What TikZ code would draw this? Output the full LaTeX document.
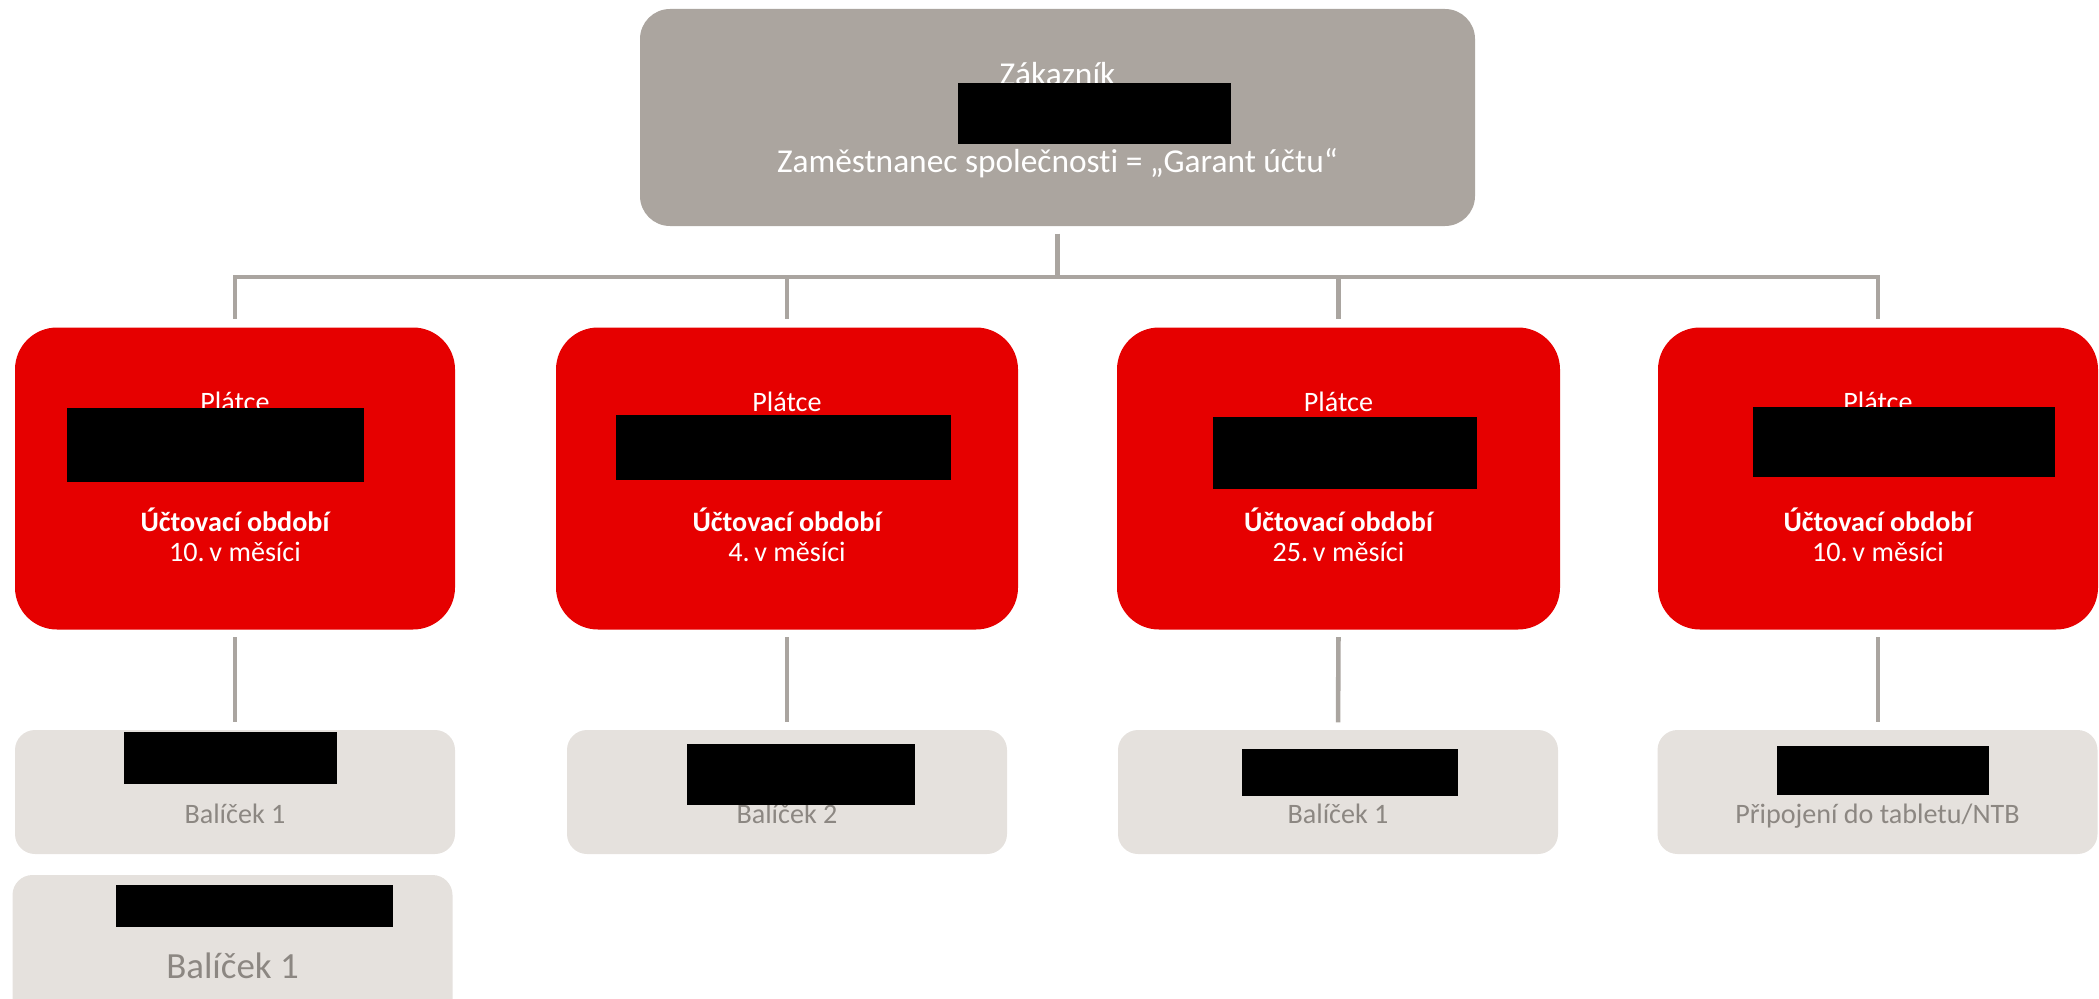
\documentclass[tikz,border=0pt]{standalone}
\usepackage{fontspec}
\setmainfont{Carlito}[Ligatures=NoCommon]
\usetikzlibrary{positioning,calc}
\definecolor{vfRed}{RGB}{230,0,0}
\definecolor{vfTaupe}{RGB}{171,165,159}
\definecolor{vfLight}{RGB}{229,225,221}
\definecolor{vfLine}{RGB}{170,165,160}
\definecolor{vfText}{RGB}{140,135,130}

\begin{document}
\begin{tikzpicture}[
  custbox/.style={fill=vfTaupe, rounded corners=0.3cm, minimum width=8.35cm, minimum height=2.17cm, inner sep=0pt},
  payerbox/.style={fill=vfRed, rounded corners=0.42cm, minimum height=3.02cm, inner sep=0pt},
  tarbox/.style={fill=vfLight, rounded corners=0.2cm, minimum width=4.4cm, minimum height=1.24cm, inner sep=0pt},
  link/.style={draw=vfLine, line width=1.3pt},
  redact/.style={fill=black},
  wtext/.style={text=white, font=\fontsize{8}{9}\selectfont, anchor=base, inner sep=0pt},
  gtext/.style={text=vfText, font=\fontsize{8}{9}\selectfont, anchor=base, inner sep=0pt},
]
  \clip (0,0) rectangle (20.99,-9.99);

  % Customer
  \node[custbox] (cust) at (10.575,-1.175) {};
  \node[wtext, font=\fontsize{9.5}{11}\selectfont] (custName) at (10.575,-0.86) {Zákazník};
  \node[wtext, font=\fontsize{9.5}{11}\selectfont] (custRole) at (10.575,-1.72) {Zaměstnanec společnosti = „Garant účtu“};
  \fill[redact] (9.58,-0.83) rectangle (12.31,-1.44);

  % Payers
  \node[payerbox, minimum width=4.40cm] (pay1) at (2.35,-4.785) {};
  \node[payerbox, minimum width=4.62cm] (pay2) at (7.87,-4.785) {};
  \node[payerbox, minimum width=4.43cm] (pay3) at (13.385,-4.785) {};
  \node[payerbox, minimum width=4.40cm] (pay4) at (18.78,-4.785) {};

  \node[wtext] (pay1a) at ($(pay1.north)+(0,-0.85)$) {Plátce};
  \node[wtext, font=\fontsize{8}{9}\selectfont\bfseries] (pay1b) at ($(pay1.north)+(0,-2.05)$) {Účtovací období};
  \node[wtext] (pay1c) at ($(pay1.north)+(0,-2.35)$) {10.\,v měsíci};
  \node[wtext] (pay2a) at ($(pay2.north)+(0,-0.85)$) {Plátce};
  \node[wtext, font=\fontsize{8}{9}\selectfont\bfseries] (pay2b) at ($(pay2.north)+(0,-2.05)$) {Účtovací období};
  \node[wtext] (pay2c) at ($(pay2.north)+(0,-2.35)$) {4.\,v měsíci};
  \node[wtext] (pay3a) at ($(pay3.north)+(0,-0.85)$) {Plátce};
  \node[wtext, font=\fontsize{8}{9}\selectfont\bfseries] (pay3b) at ($(pay3.north)+(0,-2.05)$) {Účtovací období};
  \node[wtext] (pay3c) at ($(pay3.north)+(0,-2.35)$) {25.\,v měsíci};
  \node[wtext] (pay4a) at ($(pay4.north)+(0,-0.85)$) {Plátce};
  \node[wtext, font=\fontsize{8}{9}\selectfont\bfseries] (pay4b) at ($(pay4.north)+(0,-2.05)$) {Účtovací období};
  \node[wtext] (pay4c) at ($(pay4.north)+(0,-2.35)$) {10.\,v měsíci};

  \fill[redact] (0.67,-4.08) rectangle (3.64,-4.82);
  \fill[redact] (6.16,-4.15) rectangle (9.51,-4.80);
  \fill[redact] (12.13,-4.17) rectangle (14.77,-4.89);
  \fill[redact] (17.53,-4.07) rectangle (20.55,-4.77);

  % Tariffs
  \node[tarbox] (tar1) at (2.35,-7.92) {};
  \node[tarbox] (tar2) at (7.87,-7.92) {};
  \node[tarbox] (tar3) at (13.38,-7.92) {};
  \node[tarbox] (tar4) at (18.775,-7.92) {};
  \node[tarbox, minimum height=1.6cm] (tar5) at (2.325,-9.55) {};

  \node[gtext] (tar1t) at ($(tar1)+(0,-0.31)$) {Balíček 1};
  \node[gtext] (tar2t) at ($(tar2)+(0,-0.31)$) {Balíček 2};
  \node[gtext] (tar3t) at ($(tar3)+(0,-0.31)$) {Balíček 1};
  \node[gtext] (tar4t) at ($(tar4)+(0,-0.31)$) {Připojení do tabletu/NTB};
  \node[gtext, font=\fontsize{10.5}{12}\selectfont] (tar5t) at (2.325,-9.78) {Balíček 1};

  \fill[redact] (1.24,-7.32) rectangle (3.37,-7.84);
  \fill[redact] (6.87,-7.44) rectangle (9.15,-8.05);
  \fill[redact] (12.42,-7.49) rectangle (14.58,-7.96);
  \fill[redact] (17.77,-7.46) rectangle (19.89,-7.95);
  \fill[redact] (1.16,-8.85) rectangle (3.93,-9.27);

  % Connectors
  \coordinate (bus) at (10.575,-2.77);
  \draw[link, shorten <=0.07cm] (cust.south) -- (bus);
  \draw[link, line cap=rect] (pay1 |- bus) -- (pay4 |- bus);
  \draw[link, shorten >=0.08cm] (pay1 |- bus) -- (pay1.north);
  \draw[link, shorten >=0.08cm] (pay2 |- bus) -- (pay2.north);
  \draw[link, shorten >=0.08cm] (pay3 |- bus) -- (pay3.north);
  \draw[link, shorten >=0.08cm] (pay4 |- bus) -- (pay4.north);
  \draw[link, shorten <=0.07cm, shorten >=0.07cm] (pay1.south) -- (tar1.north);
  \draw[link, shorten <=0.07cm, shorten >=0.07cm] (pay2.south) -- (tar2.north);
  \draw[link, shorten <=0.07cm, shorten >=0.07cm] (pay3.south) -- (tar3.north);
  \draw[link, shorten <=0.07cm, shorten >=0.07cm] (pay4 |- pay4.south) -- (pay4 |- tar4.north);
\end{tikzpicture}
\end{document}
